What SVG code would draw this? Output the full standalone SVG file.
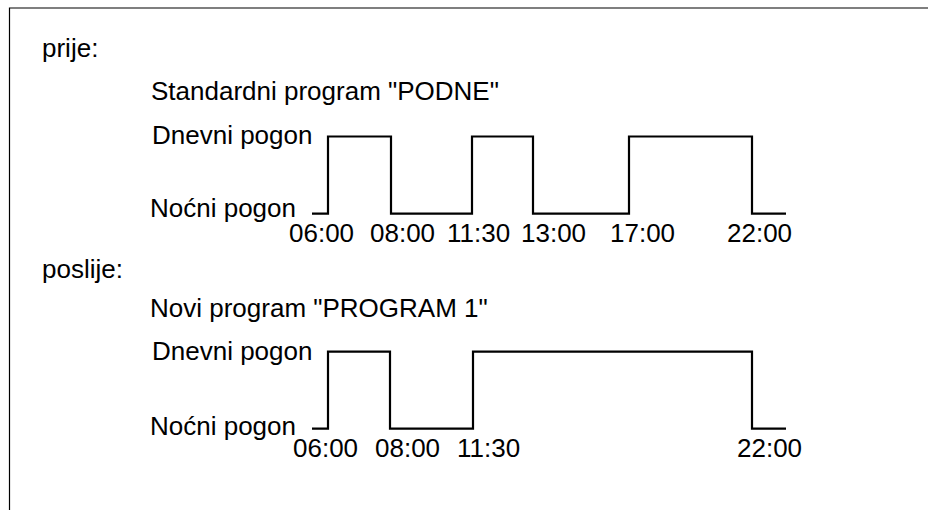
<svg xmlns="http://www.w3.org/2000/svg" width="930" height="510" viewBox="0 0 930 510">
<style>
text{font-family:"Liberation Sans",Arial,sans-serif;font-size:26px;fill:#000}
.sig{fill:none;stroke:#000;stroke-width:2.2;stroke-linejoin:miter}
.frame{fill:none;stroke:#000;stroke-width:1.2}
</style>
<rect width="930" height="510" fill="#fff"/>
<g id="frame"><polyline class="frame" points="9.5,510 9.5,8 928,8"/></g>
<g id="before">
<text x="42" y="57">prije:</text>
<text x="151" y="100">Standardni program "PODNE"</text>
<text x="152" y="144">Dnevni pogon</text>
<text x="150" y="217">Noćni pogon</text>
<text x="289" y="242">06:00</text>
<text x="370" y="242">08:00</text>
<text x="447" y="242">11:30</text>
<text x="521" y="242">13:00</text>
<text x="610" y="242">17:00</text>
<text x="727" y="242">22:00</text>
</g>
<g id="after">
<text x="42" y="278">poslije:</text>
<text x="150" y="317">Novi program "PROGRAM 1"</text>
<text x="152" y="360">Dnevni pogon</text>
<text x="150" y="435">Noćni pogon</text>
<text x="293" y="457">06:00</text>
<text x="375" y="457">08:00</text>
<text x="457" y="457">11:30</text>
<text x="737" y="457">22:00</text>
</g>
<g id="connectors">
<polyline class="sig" points="312,213.7 328,213.7 328,136.5 391,136.5 391,213.7 472,213.7 472,136.5 533,136.5 533,213.7 629,213.7 629,136.5 752,136.5 752,213.7 786,213.7"/>
<polyline class="sig" points="312,428.7 328,428.7 328,351.7 390,351.7 390,428.7 473,428.7 473,351.7 752,351.7 752,428.7 786,428.7"/>
</g>
</svg>
